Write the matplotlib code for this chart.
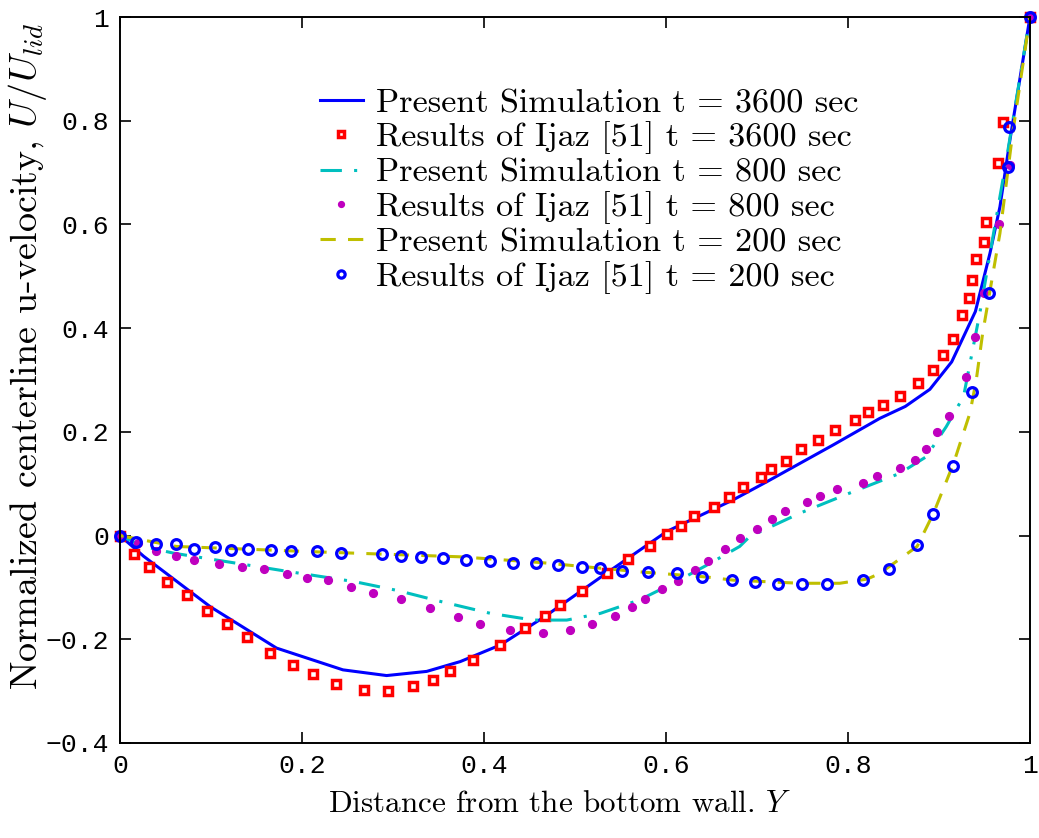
import numpy as np
import matplotlib
matplotlib.use("Agg")
import matplotlib.pyplot as plt

plt.rcParams['mathtext.fontset'] = 'cm'
plt.rcParams['axes.unicode_minus'] = True

# Present simulation, t = 3600 sec
sim3600_y = [0.0, 0.026, 0.099, 0.172, 0.245, 0.293, 0.337, 0.374, 0.418, 0.467, 0.535,
             0.601, 0.674, 0.711, 0.784, 0.835, 0.863, 0.890, 0.914, 0.940, 0.956,
             0.967, 0.978, 1.0]
sim3600_u = [0.0, -0.040, -0.137, -0.217, -0.259, -0.270, -0.262, -0.243, -0.211, -0.156, -0.072,
             0.008, 0.069, 0.104, 0.175, 0.226, 0.249, 0.282, 0.335, 0.432, 0.544,
             0.634, 0.763, 1.0]

# Ijaz [51], t = 3600 sec
ijaz3600_y = [0.0, 0.015, 0.032, 0.052, 0.074, 0.096, 0.118, 0.140, 0.165, 0.190, 0.212,
              0.237, 0.268, 0.295, 0.322, 0.344, 0.363, 0.388, 0.418, 0.445, 0.467,
              0.484, 0.508, 0.535, 0.558, 0.582, 0.601, 0.617, 0.631, 0.653, 0.669,
              0.685, 0.704, 0.715, 0.732, 0.748, 0.767, 0.786, 0.808, 0.822, 0.838,
              0.857, 0.877, 0.893, 0.904, 0.915, 0.925, 0.933, 0.936, 0.941, 0.949,
              0.952, 0.965, 0.970, 1.0]
ijaz3600_u = [0.0, -0.036, -0.061, -0.090, -0.115, -0.146, -0.171, -0.196, -0.226, -0.249, -0.267,
              -0.286, -0.298, -0.300, -0.291, -0.278, -0.262, -0.240, -0.211, -0.179, -0.156,
              -0.133, -0.106, -0.073, -0.046, -0.021, 0.003, 0.019, 0.038, 0.056, 0.075,
              0.094, 0.112, 0.128, 0.144, 0.166, 0.184, 0.204, 0.222, 0.238, 0.252,
              0.270, 0.295, 0.319, 0.348, 0.380, 0.425, 0.458, 0.493, 0.533, 0.567,
              0.605, 0.718, 0.798, 1.0]

# Present simulation, t = 800 sec
sim800_y = [0.0, 0.026, 0.059, 0.180, 0.258, 0.305, 0.352, 0.407, 0.454, 0.491, 0.528,
            0.571, 0.608, 0.645, 0.681, 0.692, 0.747, 0.802, 0.857, 0.886, 0.908,
            0.927, 0.945, 0.960, 0.974, 1.0]
sim800_u = [0.0, -0.021, -0.034, -0.068, -0.089, -0.106, -0.127, -0.150, -0.163, -0.163, -0.150,
            -0.124, -0.092, -0.057, -0.021, -0.002, 0.043, 0.082, 0.120, 0.152, 0.210,
            0.268, 0.430, 0.583, 0.724, 1.0]

# Ijaz [51], t = 800 sec
ijaz800_y = [0.0, 0.020, 0.040, 0.062, 0.081, 0.109, 0.134, 0.158, 0.183, 0.205, 0.229,
             0.254, 0.278, 0.309, 0.341, 0.371, 0.396, 0.429, 0.465, 0.495, 0.519,
             0.544, 0.563, 0.577, 0.596, 0.613, 0.632, 0.646, 0.665, 0.681, 0.700,
             0.717, 0.731, 0.755, 0.769, 0.788, 0.816, 0.832, 0.857, 0.874, 0.886,
             0.898, 0.911, 0.930, 0.940, 0.949, 0.966, 0.978, 1.0]
ijaz800_u = [0.0, -0.015, -0.029, -0.039, -0.047, -0.055, -0.060, -0.065, -0.074, -0.081, -0.086,
             -0.100, -0.111, -0.123, -0.139, -0.158, -0.171, -0.182, -0.187, -0.182, -0.171,
             -0.155, -0.137, -0.123, -0.104, -0.087, -0.066, -0.049, -0.025, -0.005, 0.012,
             0.031, 0.047, 0.065, 0.076, 0.090, 0.102, 0.114, 0.130, 0.146, 0.167,
             0.199, 0.231, 0.305, 0.382, 0.467, 0.601, 0.715, 1.0]

# Present simulation, t = 200 sec
sim200_y = [0.0, 0.062, 0.209, 0.374, 0.462, 0.571, 0.645, 0.674, 0.747, 0.791, 0.821,
            0.835, 0.876, 0.894, 0.916, 0.934, 0.941, 0.948, 0.967, 0.981, 1.0]
sim200_u = [0.0, -0.021, -0.031, -0.041, -0.052, -0.070, -0.080, -0.086, -0.092, -0.092, -0.084,
            -0.073, -0.021, 0.043, 0.139, 0.236, 0.300, 0.390, 0.583, 0.776, 1.0]

# Ijaz [51], t = 200 sec
ijaz200_y = [0.0, 0.018, 0.040, 0.062, 0.081, 0.104, 0.122, 0.141, 0.166, 0.188, 0.216,
             0.243, 0.288, 0.309, 0.331, 0.355, 0.380, 0.407, 0.432, 0.457, 0.481,
             0.508, 0.528, 0.552, 0.580, 0.612, 0.640, 0.673, 0.698, 0.723, 0.750,
             0.777, 0.816, 0.845, 0.876, 0.893, 0.915, 0.936, 0.955, 0.976, 0.977, 1.0]
ijaz200_u = [0.0, -0.012, -0.017, -0.016, -0.025, -0.023, -0.028, -0.025, -0.028, -0.030, -0.030,
             -0.033, -0.036, -0.039, -0.041, -0.044, -0.047, -0.049, -0.052, -0.052, -0.057,
             -0.060, -0.063, -0.068, -0.070, -0.073, -0.079, -0.086, -0.089, -0.094, -0.093,
             -0.094, -0.086, -0.065, -0.019, 0.042, 0.134, 0.276, 0.468, 0.711, 0.788, 1.0]

xticks = [0, 0.2, 0.4, 0.6, 0.8, 1]
xticklabels = ['0', '0.2', '0.4', '0.6', '0.8', '1']
yticks = [-0.4, -0.2, 0, 0.2, 0.4, 0.6, 0.8, 1]
yticklabels = ['\u22120.4', '\u22120.2', '0', '0.2', '0.4', '0.6', '0.8', '1']

blue = '#0000ff'
red = '#ff0000'
cyan = '#00bfbf'
mag = '#bf00bf'
yel = '#bfbf00'

fig = plt.figure(figsize=(10.39, 8.38), dpi=100)
ax = fig.add_axes([0.1155, 0.1134, 0.8758, 0.8663])

ax.plot(sim3600_y, sim3600_u, '-', color=blue, lw=2.2,
        label='Present Simulation t = 3600 sec')
ax.plot(ijaz3600_y, ijaz3600_u, 's', ls='none', mec=red, mfc='white', mew=2.5, ms=5.5,
        clip_on=False, label='Results of Ijaz [51] t = 3600 sec')
ax.plot(sim800_y, sim800_u, '-.', color=cyan, lw=2.2, dashes=(7, 4, 1, 4),
        label='Present Simulation t = 800 sec')
ax.plot(ijaz800_y, ijaz800_u, 'o', ls='none', color=mag, ms=5.6,
        clip_on=False, label='Results of Ijaz [51] t = 800 sec')
ax.plot(sim200_y, sim200_u, '--', color=yel, lw=2.2, dashes=(5, 4),
        label='Present Simulation t = 200 sec')
ax.plot(ijaz200_y, ijaz200_u, 'o', ls='none', mec=blue, mfc='none', mew=2.3, ms=7,
        clip_on=False, label='Results of Ijaz [51] t = 200 sec')

ax.set_xlim(0, 1)
ax.set_ylim(-0.4, 1)
ax.set_xticks(xticks)
ax.set_xticklabels(xticklabels)
ax.set_yticks(yticks)
ax.set_yticklabels(yticklabels)
ax.tick_params(direction='in', length=8, width=1.2, top=True, right=True, pad=8,
               labelsize=19, colors='black')
for lab in ax.get_xticklabels() + ax.get_yticklabels():
    lab.set_family('Liberation Mono')
for sp in ax.spines.values():
    sp.set_linewidth(1.4)

# axis titles placed directly on the figure
fig.text(560 / 1039, 1 - 812 / 838, 'Distance from the bottom wall. $Y$',
         family='cmr10', fontsize=22.4, ha='center', va='baseline')
fig.text(37 / 1039, 1 - 356 / 838, 'Normalized centerline u-velocity, $U/U_{lid}$',
         family='cmr10', fontsize=27.5, rotation=90, rotation_mode='anchor',
         ha='center', va='baseline')

leg = ax.legend(loc='upper left', bbox_to_anchor=(0.2198, 0.902), frameon=False,
                prop={'family': 'cmr10', 'size': 24.6}, handlelength=1.25,
                handletextpad=0.4, labelspacing=0.1, borderaxespad=0, borderpad=0,
                markerscale=0.75)

fig.savefig('out.png', dpi=100)
